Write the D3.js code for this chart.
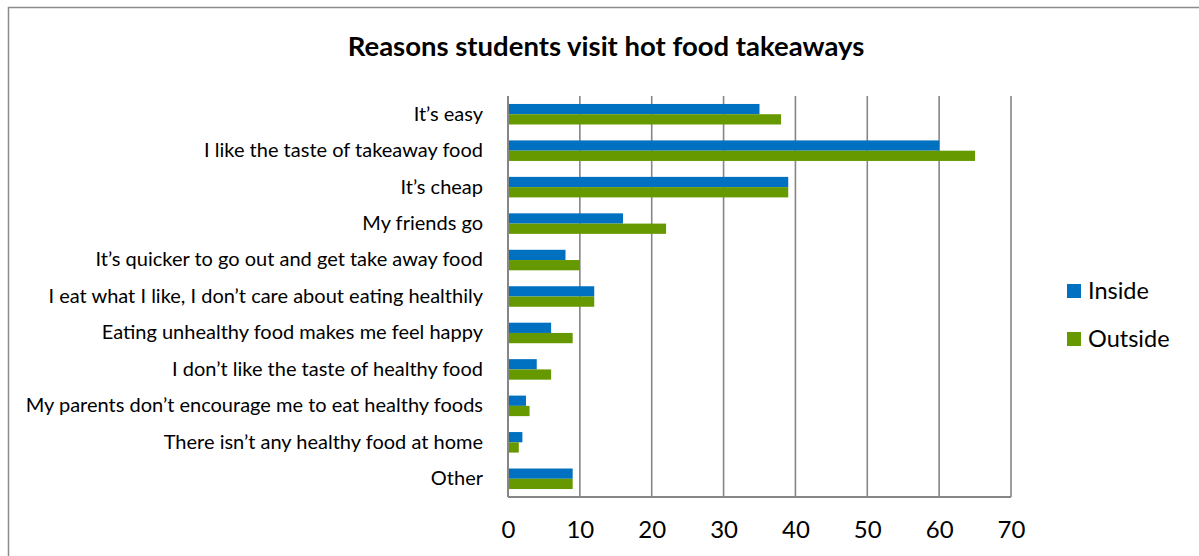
<!DOCTYPE html>
<html>
<head>
<meta charset="utf-8">
<script src="https://cdn.jsdelivr.net/npm/d3@7"></script>
<style>
  html, body { margin: 0; padding: 0; background: #fff; }
  svg { display: block; font-family: Lato, "Open Sans", sans-serif; }
</style>
</head>
<body>
<svg id="chart" width="1199" height="556"></svg>
<script>
// Survey answers: why students visit hot food takeaways
const categories = [
  "It\u2019s easy",
  "I like the taste of takeaway food",
  "It\u2019s cheap",
  "My friends go",
  "It\u2019s quicker to go out and get take away food",
  "I eat what I like, I don\u2019t care about eating healthily",
  "Eating unhealthy food makes me feel happy",
  "I don\u2019t like the taste of healthy food",
  "My parents don\u2019t encourage me to eat healthy foods",
  "There isn\u2019t any healthy food at home",
  "Other"
];
const seriesNames = ["Inside", "Outside"];
const insideValues  = [35, 60, 39, 16, 8, 12, 6, 4, 2.5, 2, 9];
const outsideValues = [38, 65, 39, 22, 10, 12, 9, 6, 3, 1.5, 9];
const xTicks = [0, 10, 20, 30, 40, 50, 60, 70];
const titleText = "Reasons students visit hot food takeaways";

const colors = { Inside: "#0070C0", Outside: "#669900" };
const gridColor = "#868686";

const svg = d3.select("#chart");

// outer chart frame
svg.append("rect")
  .attr("x", 8.5).attr("y", 7.5)
  .attr("width", 1300).attr("height", 700)
  .attr("fill", "none").attr("stroke", "#8c8c8c").attr("stroke-width", 1.5);

const plot = { left: 508, right: 1011, top: 96, bottom: 497 };

const x = d3.scaleLinear().domain([0, 70]).range([plot.left, plot.right]);
const y = d3.scaleBand().domain(categories)
  .range([plot.top, plot.bottom]).paddingInner(0.437).paddingOuter(0.2185);
const ySub = d3.scaleBand().domain(seriesNames).range([0, y.bandwidth()]);

const rows = categories.map((c, i) => ({
  category: c,
  values: [
    { series: "Inside", value: insideValues[i] },
    { series: "Outside", value: outsideValues[i] }
  ]
}));

// vertical gridlines
svg.append("g").selectAll("line")
  .data(xTicks.filter(t => t > 0))
  .join("line")
  .attr("x1", d => x(d)).attr("x2", d => x(d))
  .attr("y1", plot.top).attr("y2", plot.bottom)
  .attr("stroke", gridColor).attr("stroke-width", 1.6);

// bars
svg.append("g").selectAll("g")
  .data(rows)
  .join("g")
  .attr("transform", d => `translate(0,${y(d.category)})`)
  .selectAll("rect")
  .data(d => d.values)
  .join("rect")
  .attr("x", x(0))
  .attr("y", d => ySub(d.series))
  .attr("width", d => x(d.value) - x(0))
  .attr("height", ySub.bandwidth())
  .attr("fill", d => colors[d.series]);

// x axis (labels only, line drawn separately)
const xAxis = svg.append("g")
  .attr("transform", `translate(0,${plot.bottom})`)
  .call(d3.axisBottom(x).tickValues(xTicks).tickSize(0).tickPadding(24));
xAxis.select(".domain").remove();
xAxis.selectAll("text")
  .attr("font-family", "Lato, sans-serif")
  .attr("font-size", 24)
  .attr("fill", "#000");

// y axis category labels
const yAxis = svg.append("g")
  .attr("transform", `translate(${plot.left},0)`)
  .call(d3.axisLeft(y).tickSize(0).tickPadding(25));
yAxis.select(".domain").remove();
yAxis.selectAll("text")
  .attr("font-family", "Lato, sans-serif")
  .attr("font-size", 20)
  .attr("fill", "#000");

// axis lines
svg.append("line")
  .attr("x1", plot.left).attr("x2", plot.left)
  .attr("y1", plot.top).attr("y2", plot.bottom)
  .attr("stroke", gridColor).attr("stroke-width", 2);
svg.append("line")
  .attr("x1", plot.left).attr("x2", plot.right)
  .attr("y1", plot.bottom).attr("y2", plot.bottom)
  .attr("stroke", gridColor).attr("stroke-width", 2);

// title
svg.append("text")
  .attr("x", 606).attr("y", 56)
  .attr("text-anchor", "middle")
  .attr("font-family", "Lato, sans-serif")
  .attr("font-weight", "bold")
  .attr("font-size", 27.5)
  .attr("fill", "#000")
  .text(titleText);

// legend
const legend = svg.append("g").attr("transform", "translate(1067,284)");
const legendItems = legend.selectAll("g")
  .data(seriesNames)
  .join("g")
  .attr("transform", (d, i) => `translate(0,${i * 48})`);
legendItems.append("rect")
  .attr("width", 14).attr("height", 14)
  .attr("fill", d => colors[d]);
legendItems.append("text")
  .attr("x", 21).attr("y", 7)
  .attr("dy", "0.35em")
  .attr("font-family", "Lato, sans-serif")
  .attr("font-size", 23.5)
  .attr("fill", "#000")
  .text(d => d);
</script>
</body>
</html>
